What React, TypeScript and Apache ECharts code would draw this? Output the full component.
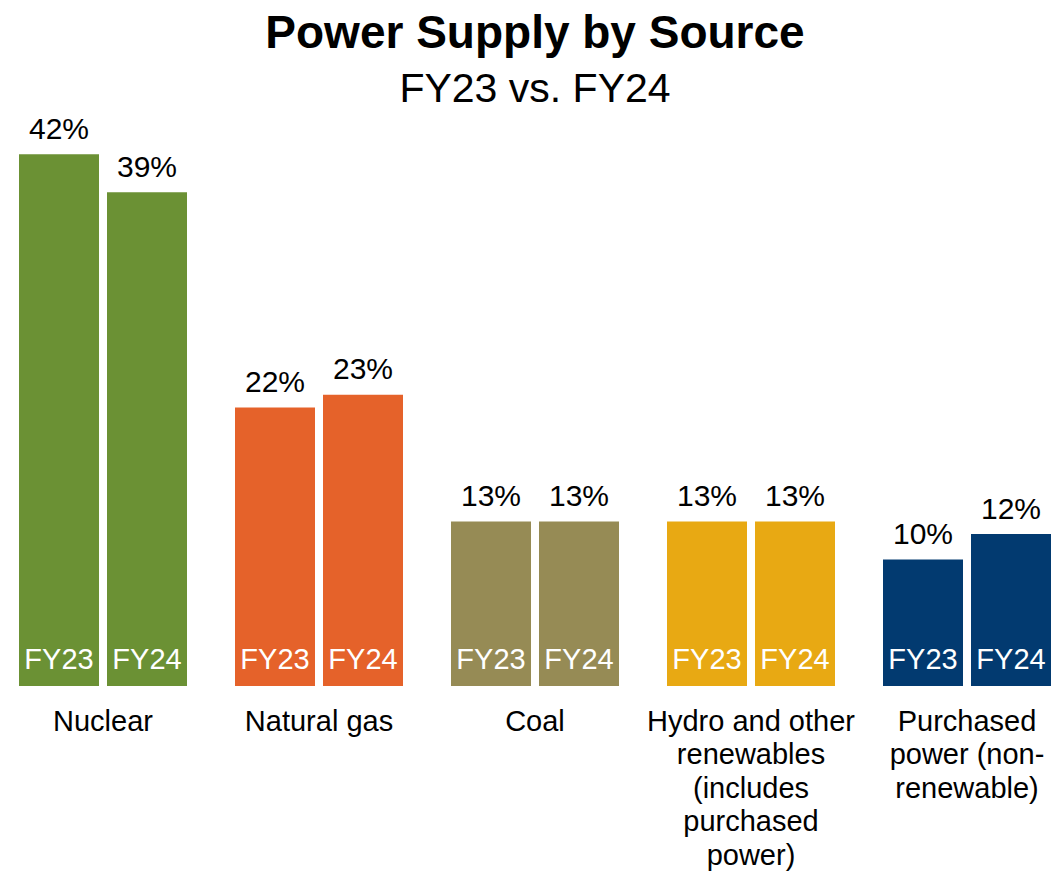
import React, { useEffect, useRef } from "react";
import * as echarts from "echarts";

const categories = [
  "Nuclear",
  "Natural gas",
  "Coal",
  "Hydro and other\nrenewables\n(includes\npurchased\npower)",
  "Purchased\npower (non-\nrenewable)",
];
const fy23 = [42, 22, 13, 13, 10];
const fy24 = [39, 23, 13, 13, 12];
const zeros = [0, 0, 0, 0, 0];
const colors = ["#6B9134", "#E5622A", "#968B55", "#E8A913", "#023A70"];

const FONT = "'Liberation Sans', Arial, sans-serif";

export default function App() {
  const ref = useRef<HTMLDivElement>(null);
  useEffect(() => {
    if (!ref.current) return;
    const chart = echarts.init(ref.current, undefined, { renderer: "svg" });
    const mainSeries = (name: string, data: number[], stack: string) => ({
      name,
      type: "bar",
      stack,
      data,
      barWidth: 80,
      barGap: "10%",
      itemStyle: { color: (p: any) => colors[p.dataIndex] },
      label: {
        show: true,
        position: "insideBottom",
        distance: 13,
        formatter: name,
        color: "#fff",
        fontSize: 29,
        fontFamily: FONT,
      },
    });
    const topSeries = (name: string, values: number[], stack: string) => ({
      name: name + " value",
      type: "bar",
      stack,
      data: zeros,
      barWidth: 80,
      barGap: "10%",
      itemStyle: { color: "transparent" },
      label: {
        show: true,
        position: "top",
        distance: 11,
        formatter: (p: any) => values[p.dataIndex] + "%",
        color: "#000",
        fontSize: 30,
        fontFamily: FONT,
      },
    });
    chart.setOption({
      animation: false,
      backgroundColor: "#fff",
      title: {
        text: "Power Supply by Source",
        subtext: "FY23 vs. FY24",
        left: "center",
        top: 4,
        itemGap: 12,
        textStyle: { fontSize: 46, fontWeight: "bold", color: "#000", fontFamily: FONT },
        subtextStyle: { fontSize: 41, color: "#000", fontFamily: FONT },
      },
      grid: { left: 0, right: 0, top: 53, bottom: 193, containLabel: false },
      xAxis: {
        type: "category",
        data: categories,
        axisLine: { show: false },
        axisTick: { show: false },
        axisLabel: {
          interval: 0,
          margin: 18,
          fontSize: 29,
          lineHeight: 33.5,
          color: "#000",
          fontFamily: FONT,
          align: "center",
        },
      },
      yAxis: { type: "value", min: 0, max: 50, show: false, splitLine: { show: false } },
      series: [
        mainSeries("FY23", fy23, "a"),
        topSeries("FY23", fy23, "a"),
        mainSeries("FY24", fy24, "b"),
        topSeries("FY24", fy24, "b"),
      ],
    });
    return () => chart.dispose();
  }, []);
  return (
    <div
      ref={ref}
      style={{ position: "absolute", left: -5, top: 0, width: 1080, height: 879 }}
    />
  );
}
